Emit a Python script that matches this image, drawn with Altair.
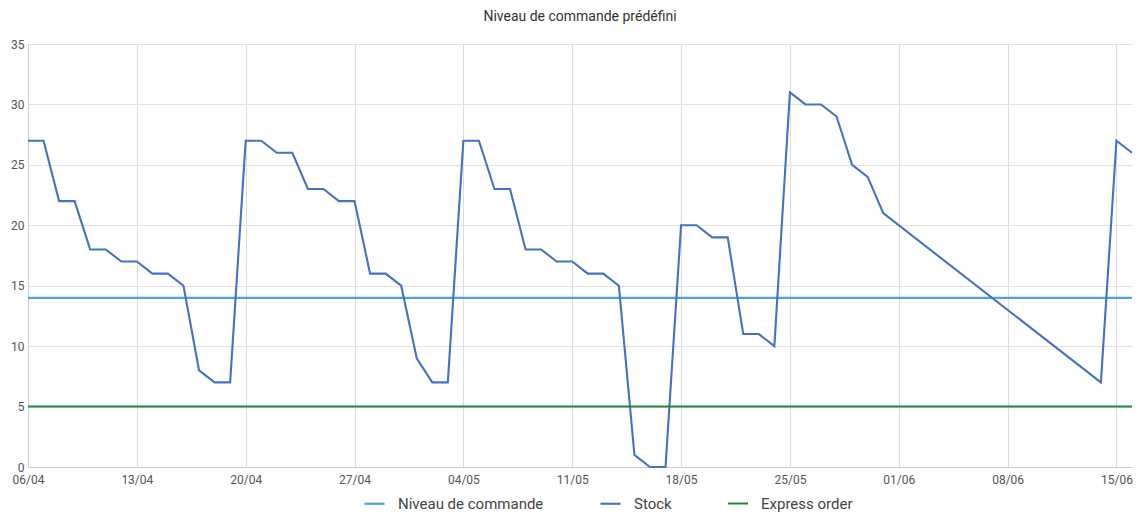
import altair as alt
import pandas as pd

# Stock series (daily readings)
stock_dates = [
    "2020-04-06", "2020-04-07", "2020-04-08", "2020-04-09", "2020-04-10", "2020-04-11", "2020-04-12",
    "2020-04-13", "2020-04-14", "2020-04-15", "2020-04-16", "2020-04-17", "2020-04-18", "2020-04-19",
    "2020-04-20", "2020-04-21", "2020-04-22", "2020-04-23", "2020-04-24", "2020-04-25", "2020-04-26",
    "2020-04-27", "2020-04-28", "2020-04-29", "2020-04-30", "2020-05-01", "2020-05-02", "2020-05-03",
    "2020-05-04", "2020-05-05", "2020-05-06", "2020-05-07", "2020-05-08", "2020-05-09", "2020-05-10",
    "2020-05-11", "2020-05-12", "2020-05-13", "2020-05-14", "2020-05-15", "2020-05-16", "2020-05-17",
    "2020-05-18", "2020-05-19", "2020-05-20", "2020-05-21", "2020-05-22", "2020-05-23", "2020-05-24",
    "2020-05-25", "2020-05-26", "2020-05-27", "2020-05-28", "2020-05-29", "2020-05-30", "2020-05-31",
    "2020-06-14", "2020-06-15", "2020-06-16",
]
stock_values = [
    27, 27, 22, 22, 18, 18, 17,
    17, 16, 16, 15, 8, 7, 7,
    27, 27, 26, 26, 23, 23, 22,
    22, 16, 16, 15, 9, 7, 7,
    27, 27, 23, 23, 18, 18, 17,
    17, 16, 16, 15, 1, 0, 0,
    20, 20, 19, 19, 11, 11, 10,
    31, 30, 30, 29, 25, 24, 21,
    7, 27, 26,
]

# Constant reference levels
level_dates = ["2020-04-06", "2020-06-16"]
order_level = [14, 14]
express_level = [5, 5]

series_names = ["Niveau de commande", "Stock", "Express order"]
series_colors = ["#4ea3de", "#4472c4", "#23893b"]
series_widths = [2.2, 2.0, 1.5]

week_ticks = ["2020-04-06", "2020-04-13", "2020-04-20", "2020-04-27", "2020-05-04", "2020-05-11",
              "2020-05-18", "2020-05-25", "2020-06-01", "2020-06-08", "2020-06-15"]

title_text = "Niveau de commande prédéfini"

rows = []
for d, v in zip(level_dates, order_level):
    rows.append({"series": series_names[0], "date": d, "value": v})
for d, v in zip(stock_dates, stock_values):
    rows.append({"series": series_names[1], "date": d, "value": v})
for d, v in zip(level_dates, express_level):
    rows.append({"series": series_names[2], "date": d, "value": v})
df = pd.DataFrame(rows)


def to_dt(s):
    y, m, d = (int(p) for p in s.split("-"))
    return alt.DateTime(year=y, month=m, date=d, utc=True)


FONT = "Roboto"

chart = alt.Chart(df).mark_line(interpolate="linear").encode(
    x=alt.X(
        "date:T",
        title=None,
        scale=alt.Scale(type="utc", domain=[to_dt(level_dates[0]), to_dt(level_dates[1])], nice=False),
        axis=alt.Axis(
            values=[to_dt(t) for t in week_ticks],
            format="%d/%m",
            ticks=False,
            labelPadding=7,
            labelFontSize=12,
            labelColor="#555555",
            labelFont=FONT,
            grid=True,
            gridColor="#dddddd",
            domainColor="#cccccc",
            labelOverlap=False,
            labelFlush=False,
        ),
    ),
    y=alt.Y(
        "value:Q",
        title=None,
        scale=alt.Scale(domain=[0, 35], nice=False),
        axis=alt.Axis(
            values=[0, 5, 10, 15, 20, 25, 30, 35],
            ticks=False,
            labelPadding=4,
            labelFontSize=12,
            labelColor="#555555",
            labelFont=FONT,
            gridColor="#e2e2e2",
            domainColor="#cccccc",
        ),
    ),
    color=alt.Color(
        "series:N",
        scale=alt.Scale(domain=series_names, range=series_colors),
        sort=series_names,
        legend=alt.Legend(
            title=None,
            orient="none",
            legendX=335,
            legendY=448,
            direction="horizontal",
            symbolType="stroke",
            symbolSize=400,
            labelFont=FONT,
            labelFontSize=15,
            labelColor="#444444",
            labelOffset=12,
            columnPadding=52,
        ),
    ),
    strokeWidth=alt.StrokeWidth(
        "series:N",
        scale=alt.Scale(domain=series_names, range=series_widths),
        legend=None,
    ),
    detail="series:N",
).properties(
    width=1104,
    height=423,
    padding={"left": 2, "top": 2, "right": 0, "bottom": 0},
    title=alt.TitleParams(
        text=title_text,
        font=FONT,
        fontSize=14,
        fontWeight="normal",
        color="#333333",
        anchor="middle",
        offset=14,
    ),
).configure_view(stroke=None)

chart.save("out.html", embed_options={"renderer": "svg", "actions": False})
